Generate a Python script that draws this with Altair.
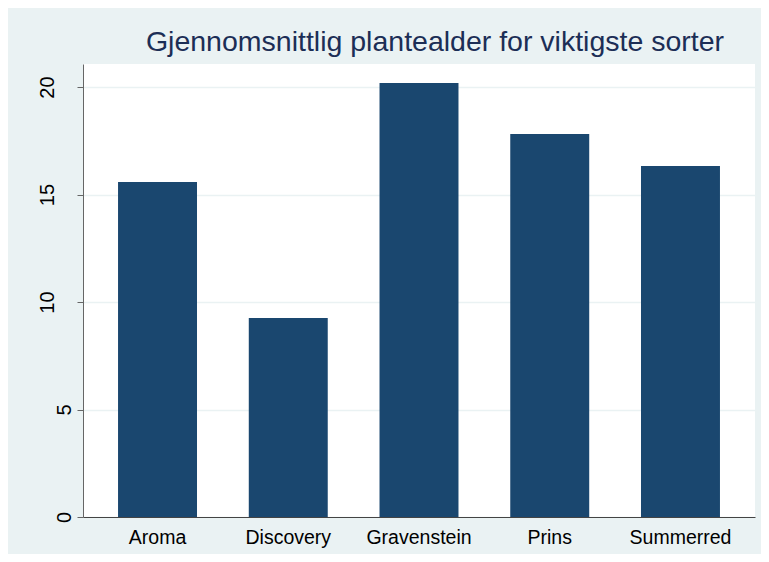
import altair as alt
import pandas as pd

sorter = ["Aroma", "Discovery", "Gravenstein", "Prins", "Summerred"]
alder = [15.58, 9.26, 20.19, 17.81, 16.33]
y_ticks = [0, 5, 10, 15, 20]

df = pd.DataFrame({"sort": sorter, "alder": alder})

chart = (
    alt.Chart(df)
    .mark_bar(color="#1a476f")
    .encode(
        x=alt.X(
            "sort:N",
            title=None,
            sort=sorter,
            scale=alt.Scale(paddingInner=0.396, paddingOuter=0.268),
            axis=alt.Axis(
                labelAngle=0,
                ticks=False,
                tickSize=0,
                labelPadding=26,
                labelBaseline="alphabetic",
                labelFontSize=19.5,
                labelColor="#000000",
                labelFont="Liberation Sans",
                domainColor="#444444",
                domainWidth=1,
                grid=False,
            ),
        ),
        y=alt.Y(
            "alder:Q",
            title=None,
            scale=alt.Scale(domain=[0, 21.07], nice=False, zero=True),
            axis=alt.Axis(
                values=y_ticks,
                labelAngle=270,
                labelAlign="center",
                labelBaseline="alphabetic",
                labelPadding={"condition": {"test": "datum.value >= 10", "value": 24}, "value": 7},
                tickSize=6,
                tickColor="#666666",
                domainColor="#666666",
                domainWidth=1,
                labelFontSize=20,
                labelColor="#000000",
                labelFont="Liberation Sans",
                grid=True,
                gridColor="#eaf2f3",
                gridWidth=1.5,
            ),
        ),
    )
    .properties(
        width=672,
        height=453,
        padding={"left": 75, "top": 56, "right": 6, "bottom": 37},
        autosize=alt.AutoSizeParams(type="none"),
        title=alt.TitleParams(
            "Gjennomsnittlig plantealder for viktigste sorter",
            font="Liberation Sans",
            fontSize=28.5,
            fontWeight="normal",
            color="#1c2e56",
            anchor="middle",
            frame="group",
            baseline="alphabetic",
            offset=11,
            dx=16,
            dy=26,
        ),
    )
    .configure(background="#eaf2f3")
    .configure_view(fill="white", stroke=None)
)

chart.save("out.html", embed_options={"renderer": "svg", "actions": False})
